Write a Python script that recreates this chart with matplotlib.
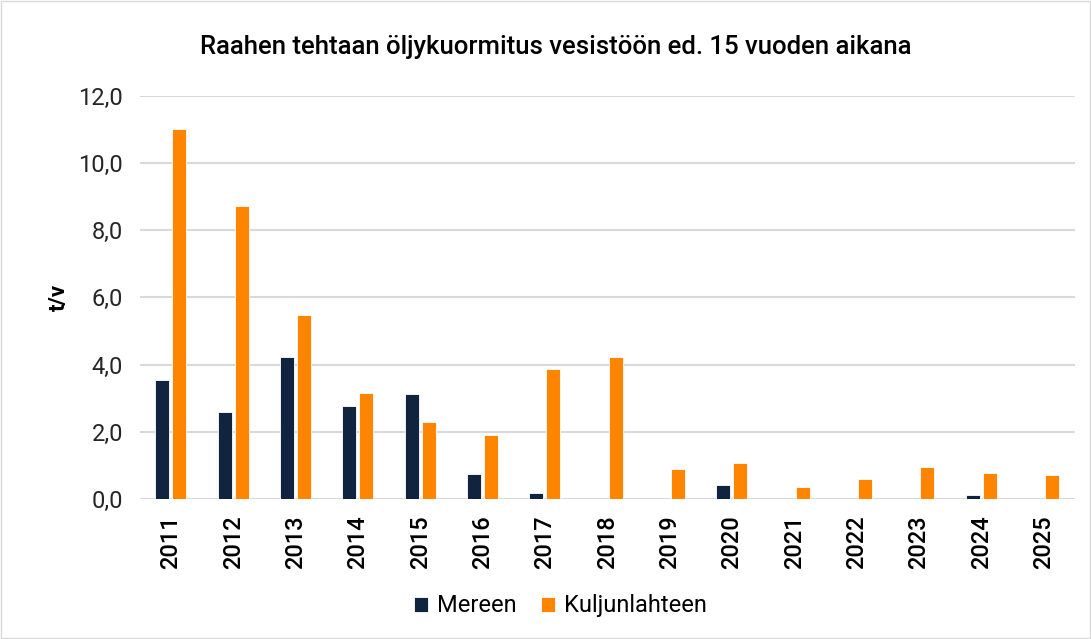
import matplotlib.pyplot as plt
import numpy as np

plt.rcParams['font.family'] = ['Roboto', 'DejaVu Sans']

vuodet = ['2011', '2012', '2013', '2014', '2015', '2016', '2017', '2018',
          '2019', '2020', '2021', '2022', '2023', '2024', '2025']
mereen = [3.54, 2.59, 4.22, 2.77, 3.13, 0.74, 0.18, 0.0,
          0.0, 0.41, 0.0, 0.0, 0.0, 0.12, 0.0]
kuljunlahteen = [11.02, 8.72, 5.48, 3.15, 2.29, 1.90, 3.86, 4.22,
                 0.88, 1.06, 0.35, 0.59, 0.94, 0.77, 0.71]

c_mereen = '#10243f'
c_kulj = '#ff8500'

fig = plt.figure(figsize=(10.91, 6.39), dpi=100)
ax = fig.add_axes([0.128, 0.219, 0.857, 0.631])

x = np.arange(len(vuodet))
w = 0.225
ax.bar(x - 0.135, mereen, width=w, color=c_mereen, edgecolor='white', linewidth=0.6,
       label='Mereen', zorder=3)
ax.bar(x + 0.135, kuljunlahteen, width=w, color=c_kulj, edgecolor='white', linewidth=0.6,
       label='Kuljunlahteen', zorder=3)

ax.set_ylim(0, 12)
ax.set_xlim(-0.5, len(vuodet) - 0.5)
yt = np.arange(0, 13, 2)
ax.set_yticks(yt)
ax.set_yticklabels([('%.1f' % v).replace('.', ',') for v in yt], fontsize=17, color='#262626')
ax.set_xticks(x)
ax.set_xticklabels(vuodet, rotation=90, fontsize=17, fontweight='medium', color='#000000')
ax.tick_params(axis='y', length=0, pad=12)
ax.tick_params(axis='x', length=0, pad=12)
ax.yaxis.grid(True, color='#d9d9d9', linewidth=1.5, zorder=0)
for s in ax.spines.values():
    s.set_visible(False)

ax.set_ylabel('t/v', fontsize=16, fontweight='bold', labelpad=6)
fig.text(0.509, 0.926, 'Raahen tehtaan öljykuormitus vesistöön ed. 15 vuoden aikana',
         fontsize=18.5, fontweight='medium', ha='center', va='center')

ax.legend(loc='center', bbox_to_anchor=(0.45, -0.265), ncol=2, frameon=False,
          fontsize=17, handlelength=0.6, handleheight=0.6, handletextpad=0.4,
          columnspacing=1.0)

fig.patches.append(plt.Rectangle((0.001, 0.001), 0.998, 0.998, transform=fig.transFigure,
                                 fill=False, edgecolor='#d9d9d9', linewidth=1))

fig.savefig('out.png', dpi=100)
